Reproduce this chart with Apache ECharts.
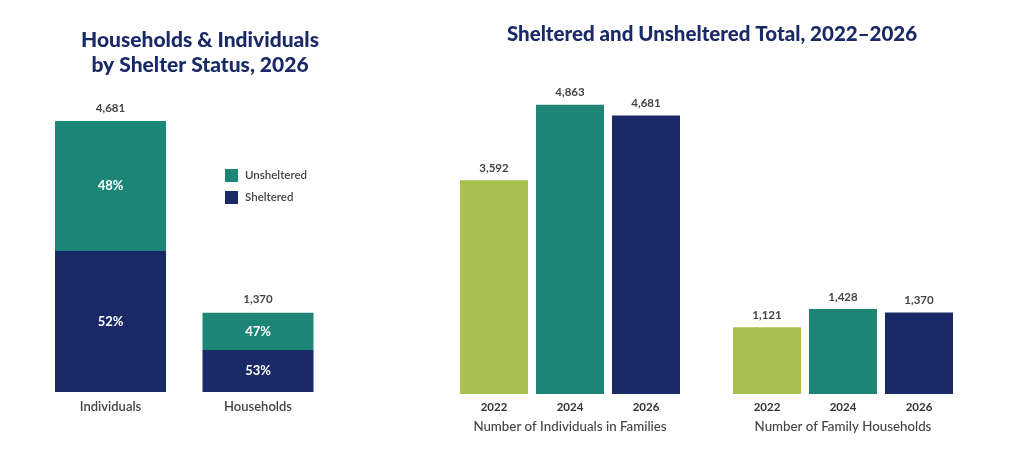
<!DOCTYPE html>
<html>
<head>
<meta charset="utf-8">
<script src="https://cdn.jsdelivr.net/npm/echarts@6/dist/echarts.min.js"></script>
<style>
  html, body { margin: 0; padding: 0; background: #fff; }
  #chart { width: 1024px; height: 459px; }
</style>
</head>
<body>
<div id="chart"></div>
<script>
// 左：按安置状态堆叠
const stackCats = ['Individuals', 'Households'];
const sheltered = [2434, 726];
const unsheltered = [2247, 644];
// 右：年份对比
const years = ['2022', '2024', '2026'];
const familyIndividuals = [3592, 4863, 4681];
const familyHouseholds = [1121, 1428, 1370];
const groupNames = ['Number of Individuals in Families', 'Number of Family Households'];

const lime = '#a8c04e';
const teal = '#1c8575';
const navy = '#1a2a67';
const yearColors = [lime, teal, navy];
const font = 'Lato, "Open Sans", sans-serif';

const totals = sheltered.map((v, i) => v + unsheltered[i]);
const fmt = v => v.toLocaleString('en-US');
const pct = (v, i) => Math.round(v / totals[i] * 100) + '%';

const chart = echarts.init(document.getElementById('chart'));

const innerLabel = {
  show: true,
  position: 'inside',
  color: '#fff',
  fontFamily: font,
  fontWeight: 'bold',
  fontSize: 13
};
const valueLabel = {
  show: true,
  position: 'top',
  distance: 6,
  color: '#444',
  fontFamily: font,
  fontWeight: 'bold',
  fontSize: 11.5
};

function yearAxis(idx) {
  return {
    type: 'category',
    gridIndex: idx,
    data: years,
    axisLine: { show: false },
    axisTick: { show: false },
    axisLabel: { color: '#333', fontFamily: font, fontWeight: 'bold', fontSize: 11.5, margin: 7 },
    name: groupNames[idx - 1],
    nameLocation: 'middle',
    nameGap: 26,
    nameTextStyle: { color: '#444', fontFamily: font, fontSize: 13.3, fontWeight: 500 }
  };
}

const option = {
  animation: false,
  title: [
    {
      text: 'Households & Individuals\nby Shelter Status, 2026',
      left: 195,
      top: 23,
      textAlign: 'center',
      textStyle: { color: navy, fontFamily: font, fontWeight: 900, fontSize: 21, lineHeight: 25 }
    },
    {
      text: 'Sheltered and Unsheltered Total, 2022\u20132026',
      left: 707,
      top: 19,
      textAlign: 'center',
      textStyle: { color: navy, fontFamily: font, fontWeight: 900, fontSize: 20.5 }
    }
  ],
  legend: {
    data: ['Unsheltered', 'Sheltered'],
    orient: 'vertical',
    left: 220,
    top: 164,
    itemWidth: 13,
    itemHeight: 13,
    itemGap: 9,
    icon: 'rect',
    textStyle: { color: '#444', fontFamily: font, fontWeight: 600, fontSize: 11.5, padding: [0, 0, 0, 2] }
  },
  grid: [
    { left: 36.75, width: 295, top: 102.5, height: 289.5 },
    { left: 456, width: 228, top: 96.5, height: 297.5 },
    { left: 729, width: 228, top: 96.5, height: 297.5 }
  ],
  xAxis: [
    {
      type: 'category',
      gridIndex: 0,
      data: stackCats,
      axisLine: { show: false },
      axisTick: { show: false },
      axisLabel: { color: '#444', fontFamily: font, fontWeight: 600, fontSize: 13, margin: 8 }
    },
    yearAxis(1),
    yearAxis(2)
  ],
  yAxis: [0, 1, 2].map(i => ({
    type: 'value', gridIndex: i, min: 0, max: 5000, show: false
  })),
  series: [
    {
      name: 'Sheltered',
      type: 'bar',
      stack: 'status',
      barWidth: 111,
      data: sheltered,
      itemStyle: { color: navy },
      label: Object.assign({}, innerLabel, { formatter: p => pct(p.value, p.dataIndex) })
    },
    {
      name: 'Unsheltered',
      type: 'bar',
      stack: 'status',
      barWidth: 111,
      data: unsheltered,
      itemStyle: { color: teal },
      label: Object.assign({}, innerLabel, { formatter: p => pct(p.value, p.dataIndex) })
    },
    {
      name: 'Total',
      type: 'bar',
      stack: 'status',
      barWidth: 111,
      data: totals.map(() => 0),
      itemStyle: { color: 'transparent' },
      label: Object.assign({}, valueLabel, { distance: 7, formatter: p => fmt(totals[p.dataIndex]) })
    },
    {
      type: 'bar',
      xAxisIndex: 1,
      yAxisIndex: 1,
      barWidth: 68,
      data: familyIndividuals.map((v, i) => ({ value: v, itemStyle: { color: yearColors[i] } })),
      label: Object.assign({}, valueLabel, { formatter: p => fmt(p.value) })
    },
    {
      type: 'bar',
      xAxisIndex: 2,
      yAxisIndex: 2,
      barWidth: 68,
      data: familyHouseholds.map((v, i) => ({ value: v, itemStyle: { color: yearColors[i] } })),
      label: Object.assign({}, valueLabel, { formatter: p => fmt(p.value) })
    }
  ]
};
chart.setOption(option);

window.onresize = function() {
  chart.resize();
};
</script>
</body>
</html>
